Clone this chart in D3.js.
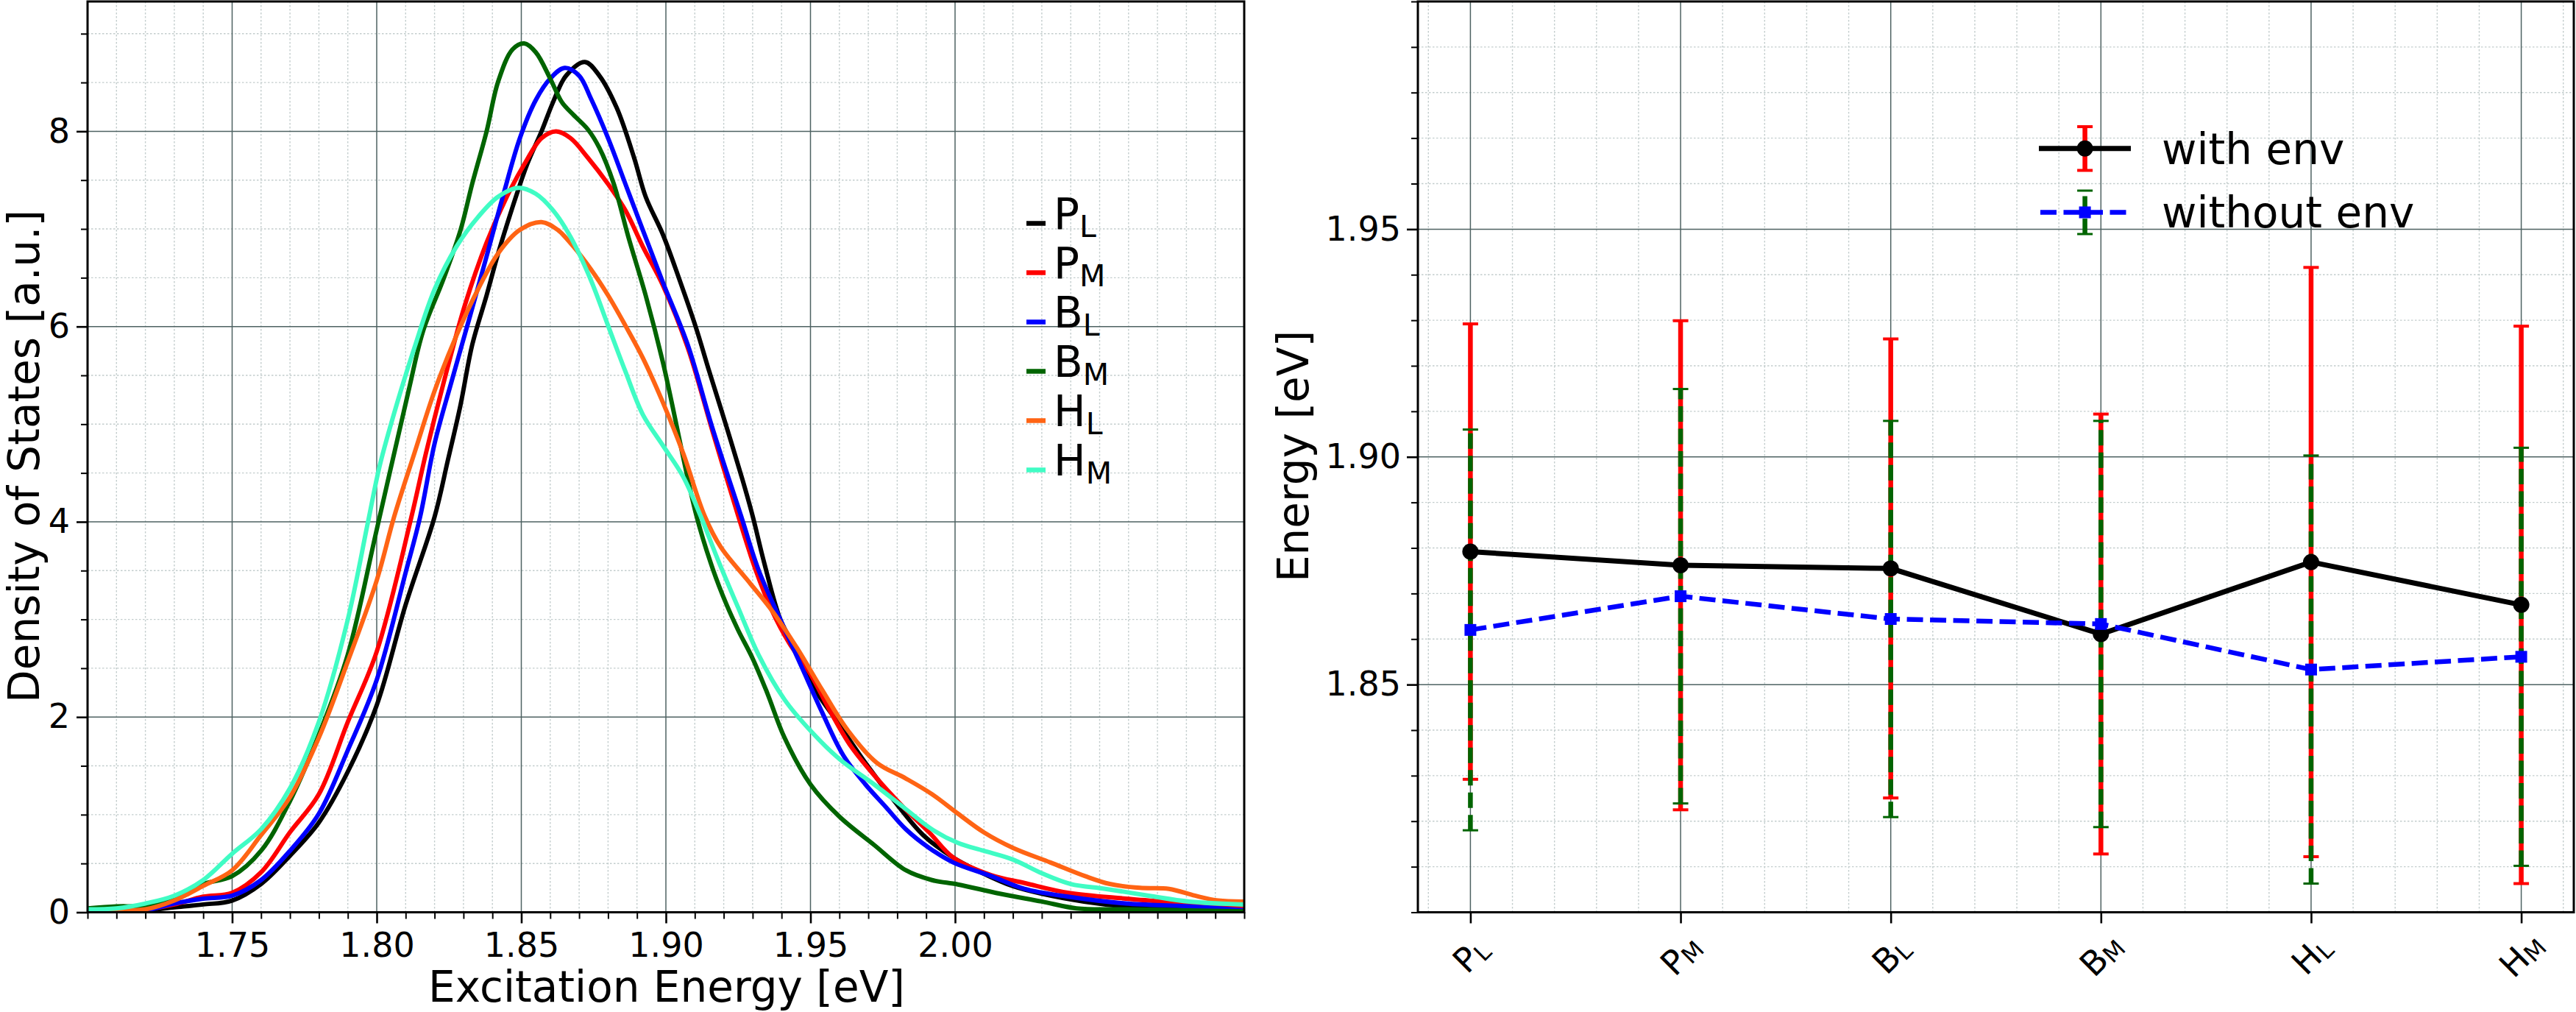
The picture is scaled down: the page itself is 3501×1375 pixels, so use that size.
<!DOCTYPE html>
<html><head><meta charset="utf-8">
<script src="https://cdn.jsdelivr.net/npm/d3@7"></script>
<style>body{margin:0;background:#fff} svg{display:block} text{font-family:"DejaVu Sans",sans-serif}</style>
</head><body><svg id="c" width="3501" height="1375"></svg>
<script>
// ---------------- DATA ----------------
// Left panel: density of states curves, [excitation energy (eV), density (a.u.)]
const dosPL = [[1.70,0.01],[1.71,0.01],[1.72,0.02],[1.73,0.05],[1.74,0.08],[1.75,0.12],[1.76,0.29],[1.77,0.58],[1.78,0.92],[1.79,1.44],[1.80,2.12],[1.81,3.15],[1.82,4.05],[1.8246,4.63],[1.829,5.2],[1.833,5.81],[1.838,6.32],[1.842,6.75],[1.8466,7.19],[1.852,7.66],[1.857,8.0],[1.861,8.30],[1.8655,8.57],[1.872,8.71],[1.877,8.57],[1.883,8.24],[1.889,7.73],[1.893,7.33],[1.899,6.94],[1.9047,6.48],[1.9105,5.98],[1.915,5.54],[1.921,4.97],[1.9265,4.43],[1.930,4.06],[1.934,3.58],[1.9397,2.99],[1.9455,2.67],[1.951,2.31],[1.960,1.92],[1.969,1.53],[1.979,1.14],[1.989,0.79],[1.9994,0.56],[2.0096,0.40],[2.0198,0.27],[2.030,0.19],[2.0446,0.11],[2.059,0.06],[2.074,0.04],[2.10,0.03]];
const dosPM = [[1.70,0.02],[1.71,0.02],[1.72,0.03],[1.73,0.08],[1.74,0.16],[1.75,0.20],[1.76,0.41],[1.77,0.82],[1.78,1.21],[1.79,1.95],[1.80,2.67],[1.812,4.05],[1.817,4.70],[1.823,5.41],[1.8305,6.22],[1.838,6.86],[1.845,7.33],[1.851,7.66],[1.857,7.93],[1.862,8.0],[1.867,7.93],[1.873,7.73],[1.880,7.46],[1.886,7.19],[1.892,6.82],[1.899,6.42],[1.9076,5.78],[1.916,4.94],[1.925,4.06],[1.931,3.51],[1.9367,3.09],[1.9426,2.76],[1.950,2.44],[1.957,2.05],[1.964,1.70],[1.973,1.37],[1.982,1.08],[1.991,0.82],[1.9994,0.56],[2.0125,0.38],[2.024,0.30],[2.039,0.20],[2.059,0.14],[2.081,0.09],[2.10,0.04]];
const dosBL = [[1.70,0.01],[1.71,0.01],[1.72,0.02],[1.73,0.09],[1.74,0.14],[1.75,0.17],[1.76,0.33],[1.77,0.63],[1.78,1.01],[1.79,1.66],[1.80,2.38],[1.81,3.48],[1.815,4.05],[1.820,4.80],[1.826,5.45],[1.832,6.08],[1.838,6.72],[1.8436,7.33],[1.8495,7.93],[1.855,8.32],[1.860,8.54],[1.865,8.65],[1.870,8.57],[1.874,8.34],[1.880,7.93],[1.886,7.46],[1.892,6.99],[1.899,6.45],[1.9076,5.81],[1.916,4.97],[1.926,4.06],[1.932,3.51],[1.9397,2.99],[1.947,2.51],[1.954,2.05],[1.9615,1.60],[1.969,1.31],[1.976,1.08],[1.983,0.85],[1.991,0.66],[1.9994,0.51],[2.0125,0.37],[2.024,0.24],[2.039,0.16],[2.059,0.09],[2.081,0.06],[2.10,0.02]];
const dosBM = [[1.70,0.04],[1.71,0.06],[1.72,0.07],[1.73,0.16],[1.74,0.29],[1.75,0.37],[1.76,0.63],[1.77,1.14],[1.78,1.82],[1.79,2.64],[1.80,3.92],[1.811,5.34],[1.816,5.95],[1.823,6.48],[1.829,6.99],[1.833,7.46],[1.838,8.0],[1.842,8.51],[1.847,8.84],[1.851,8.90],[1.855,8.81],[1.860,8.54],[1.864,8.30],[1.868,8.17],[1.873,8.02],[1.877,7.83],[1.882,7.46],[1.887,6.92],[1.893,6.32],[1.899,5.63],[1.9105,4.07],[1.9163,3.51],[1.921,3.15],[1.925,2.89],[1.930,2.60],[1.935,2.25],[1.941,1.79],[1.950,1.31],[1.960,0.98],[1.972,0.69],[1.983,0.43],[1.992,0.33],[2.001,0.285],[2.0155,0.19],[2.030,0.11],[2.042,0.04],[2.059,0.03],[2.10,0.01]];
const dosHL = [[1.70,0.02],[1.71,0.02],[1.72,0.03],[1.73,0.12],[1.74,0.27],[1.75,0.43],[1.76,0.79],[1.77,1.18],[1.78,1.79],[1.79,2.57],[1.80,3.40],[1.806,4.05],[1.813,4.70],[1.820,5.34],[1.8276,5.91],[1.835,6.38],[1.842,6.75],[1.8495,6.99],[1.857,7.07],[1.8626,6.99],[1.868,6.82],[1.874,6.59],[1.880,6.32],[1.886,6.01],[1.892,5.68],[1.899,5.22],[1.906,4.70],[1.9134,4.06],[1.919,3.74],[1.928,3.41],[1.9367,3.09],[1.9455,2.70],[1.954,2.28],[1.963,1.86],[1.973,1.53],[1.983,1.37],[1.992,1.21],[2.001,1.01],[2.0099,0.82],[2.020,0.66],[2.033,0.51],[2.045,0.37],[2.0535,0.29],[2.064,0.25],[2.074,0.24],[2.083,0.17],[2.091,0.12],[2.10,0.11]];
const dosHM = [[1.70,0.03],[1.71,0.04],[1.72,0.09],[1.73,0.17],[1.74,0.33],[1.75,0.60],[1.76,0.85],[1.77,1.27],[1.78,1.95],[1.79,3.0],[1.797,4.0],[1.801,4.57],[1.807,5.21],[1.813,5.78],[1.820,6.38],[1.8276,6.82],[1.835,7.12],[1.842,7.33],[1.849,7.42],[1.855,7.36],[1.861,7.19],[1.867,6.92],[1.874,6.48],[1.880,6.01],[1.886,5.54],[1.892,5.10],[1.899,4.78],[1.906,4.46],[1.912,4.06],[1.918,3.61],[1.925,3.12],[1.932,2.64],[1.941,2.18],[1.950,1.86],[1.960,1.57],[1.972,1.31],[1.982,1.08],[1.992,0.85],[2.001,0.71],[2.0099,0.63],[2.020,0.54],[2.030,0.40],[2.040,0.29],[2.052,0.24],[2.067,0.17],[2.081,0.11],[2.10,0.08]];

const dosLabelMain = ["P","P","B","B","H","H"];
const dosLabelSub  = ["L","M","L","M","L","M"];
const dosColors = ["#000000","#ff0000","#0000ff","#006400","#ff6414","#40fcc4"];

const energyMajorTicks = [1.75,1.80,1.85,1.90,1.95,2.00];
const dosMajorTicks = [0,2,4,6,8];

// Right panel: mean excitation energies with standard deviation
const siteMain = ["P","P","B","B","H","H"];
const siteSub  = ["L","M","L","M","L","M"];
const withEnv      = [1.8792,1.8762,1.8755,1.8611,1.8769,1.8675];
const withEnvErr   = [0.0500,0.0537,0.0504,0.0483,0.0647,0.0612];
const withoutEnv   = [1.8620,1.8694,1.8644,1.8633,1.8533,1.8561];
const withoutEnvErr= [0.0440,0.0455,0.0435,0.0446,0.0470,0.0459];
const energyRightTicks = [1.85,1.90,1.95];

// ---------------- DRAW ----------------
const svg = d3.select("#c");
svg.append("rect").attr("width",3501).attr("height",1375).attr("fill","#fff");

const FONT = "DejaVu Sans";
const MAJ_GRID = "#4e6262", MIN_GRID = "#c3cdcd";

function near(a,b){return Math.abs(a-b)<1e-6;}
function minorOf(all, major){return all.filter(v=>!major.some(m=>near(m,v)));}

function grid(g, x, y, xMaj, xMin, yMaj, yMin){
  const [xa,xb]=x.range(), [ya,yb]=y.range();
  g.append("g").selectAll("line").data(xMin).join("line")
    .attr("x1",d=>x(d)).attr("x2",d=>x(d)).attr("y1",ya).attr("y2",yb)
    .attr("stroke",MIN_GRID).attr("stroke-width",1.4).attr("stroke-dasharray","2.5,2.5");
  g.append("g").selectAll("line").data(yMin).join("line")
    .attr("y1",d=>y(d)).attr("y2",d=>y(d)).attr("x1",xa).attr("x2",xb)
    .attr("stroke",MIN_GRID).attr("stroke-width",1.4).attr("stroke-dasharray","2.5,2.5");
  g.append("g").selectAll("line").data(xMaj).join("line")
    .attr("x1",d=>x(d)).attr("x2",d=>x(d)).attr("y1",ya).attr("y2",yb)
    .attr("stroke",MAJ_GRID).attr("stroke-width",1.5);
  g.append("g").selectAll("line").data(yMaj).join("line")
    .attr("y1",d=>y(d)).attr("y2",d=>y(d)).attr("x1",xa).attr("x2",xb)
    .attr("stroke",MAJ_GRID).attr("stroke-width",1.5);
}

function styleAxis(g, size){
  g.select(".domain").remove();
  g.attr("font-family",FONT).attr("font-size",size);
  g.selectAll(".tick line").attr("stroke","#000").attr("stroke-width",2.6);
  g.selectAll(".tick text").attr("fill","#000");
}

function frame(x,y){
  const [xa,xb]=x.range(), [ya,yb]=y.range();
  svg.append("rect").attr("x",xa).attr("y",yb).attr("width",xb-xa).attr("height",ya-yb)
    .attr("fill","none").attr("stroke","#000").attr("stroke-width",3);
}

function subLabel(sel, main, sub, subSize, dy){
  sel.text(null);
  sel.append("tspan").text(main);
  sel.append("tspan").attr("font-size",subSize).attr("dy",dy).text(sub);
}

// ===== Left panel =====
const xL = d3.scaleLinear().domain([1.70,2.10]).range([119,1691]);
const yL = d3.scaleLinear().domain([0,9.33]).range([1239.5,2]);
const xLMinor = minorOf(d3.range(170,211).map(i=>i/100), energyMajorTicks);
const yLMinor = minorOf(d3.range(1,19).map(i=>i*0.5), dosMajorTicks);

grid(svg.append("g"), xL, yL, energyMajorTicks, xLMinor, dosMajorTicks, yLMinor);

svg.append("defs").append("clipPath").attr("id","clipL").append("rect")
  .attr("x",119).attr("y",2).attr("width",1691-119).attr("height",1239.5-2);

const dosAll = [dosPL,dosPM,dosBL,dosBM,dosHL,dosHM];
const lineL = d3.line().x(d=>xL(d[0])).y(d=>yL(d[1])).curve(d3.curveCatmullRom.alpha(0.5));
svg.append("g").attr("clip-path","url(#clipL)").selectAll("path").data(dosAll).join("path")
  .attr("d",lineL).attr("fill","none").attr("stroke",(d,i)=>dosColors[i])
  .attr("stroke-width",6).attr("stroke-linejoin","round").attr("stroke-linecap","round");

// axes left
const axLx = svg.append("g").attr("transform","translate(0,1239.5)")
  .call(d3.axisBottom(xL).tickValues(energyMajorTicks).tickFormat(d3.format(".2f")).tickSize(15).tickPadding(13));
styleAxis(axLx,46);
const axLxm = svg.append("g").attr("transform","translate(0,1239.5)")
  .call(d3.axisBottom(xL).tickValues(xLMinor).tickFormat("").tickSize(9));
styleAxis(axLxm,46); axLxm.selectAll(".tick line").attr("stroke-width",2);
const axLy = svg.append("g").attr("transform","translate(119,0)")
  .call(d3.axisLeft(yL).tickValues(dosMajorTicks).tickFormat(d3.format("d")).tickSize(15).tickPadding(9));
styleAxis(axLy,46);
const axLym = svg.append("g").attr("transform","translate(119,0)")
  .call(d3.axisLeft(yL).tickValues(yLMinor).tickFormat("").tickSize(9));
styleAxis(axLym,46); axLym.selectAll(".tick line").attr("stroke-width",2);
frame(xL,yL);

svg.append("text").attr("x",906).attr("y",1361).attr("text-anchor","middle")
  .attr("font-size",58).text("Excitation Energy [eV]");
svg.append("text").attr("transform","translate(53,620) rotate(-90)").attr("text-anchor","middle")
  .attr("font-size",58).text("Density of States [a.u.]");

// legend left
const legL = svg.append("g");
const legRows = d3.range(6).map(i=>303.5+i*67);
legL.selectAll("line").data(legRows).join("line")
  .attr("x1",1395).attr("x2",1421).attr("y1",d=>d).attr("y2",d=>d)
  .attr("stroke",(d,i)=>dosColors[i]).attr("stroke-width",6.5);
legL.selectAll("text").data(legRows).join("text")
  .attr("x",1432).attr("y",d=>d+7).attr("font-size",58)
  .each(function(d,i){ subLabel(d3.select(this), dosLabelMain[i], dosLabelSub[i], 41, 11); });

// ===== Right panel =====
const xR = d3.scaleLinear().domain([-0.25,5.25]).range([1927,3498]);
const yR = d3.scaleLinear().domain([1.80,2.00]).range([1239.5,2]);
const catIdx = d3.range(siteMain.length);
const xRMinor = minorOf(d3.range(-1,27).map(i=>i*0.2), catIdx);
const yRMinor = minorOf(d3.range(180,201).map(i=>i/100), energyRightTicks);

grid(svg.append("g"), xR, yR, catIdx, xRMinor, energyRightTicks, yRMinor);

const CAP = 10.5;
function errorBars(g, vals, errs, color, dashed, capW){
  g.selectAll(".bar").data(vals).join("line").attr("class","bar")
    .attr("x1",(d,i)=>xR(i)).attr("x2",(d,i)=>xR(i))
    .attr("y1",(d,i)=>yR(d-errs[i])).attr("y2",(d,i)=>yR(d+errs[i]))
    .attr("stroke",color).attr("stroke-width",6.5)
    .attr("stroke-dasharray",dashed?"21,9.5":null);
  const caps = [];
  vals.forEach((d,i)=>{caps.push([i,d-errs[i]]);caps.push([i,d+errs[i]]);});
  g.selectAll(".cap").data(caps).join("line").attr("class","cap")
    .attr("x1",d=>xR(d[0])-CAP).attr("x2",d=>xR(d[0])+CAP)
    .attr("y1",d=>yR(d[1])).attr("y2",d=>yR(d[1]))
    .attr("stroke",color).attr("stroke-width",capW);
}
errorBars(svg.append("g"), withEnv, withEnvErr, "#ff0000", false, 4);
errorBars(svg.append("g"), withoutEnv, withoutEnvErr, "#006400", true, 3);

const lineR = d3.line().x((d,i)=>xR(i)).y(d=>yR(d));
svg.append("path").attr("d",lineR(withEnv)).attr("fill","none").attr("stroke","#000").attr("stroke-width",7);
svg.append("g").selectAll("circle").data(withEnv).join("circle")
  .attr("cx",(d,i)=>xR(i)).attr("cy",d=>yR(d)).attr("r",11).attr("fill","#000");
svg.append("path").attr("d",lineR(withoutEnv)).attr("fill","none").attr("stroke","#0000ff")
  .attr("stroke-width",6.5).attr("stroke-dasharray","22,9.5");
svg.append("g").selectAll("rect").data(withoutEnv).join("rect")
  .attr("x",(d,i)=>xR(i)-8).attr("y",d=>yR(d)-8).attr("width",16).attr("height",16).attr("fill","#0000ff");

// axes right
const axRx = svg.append("g").attr("transform","translate(0,1239.5)")
  .call(d3.axisBottom(xR).tickValues(catIdx).tickSize(15).tickPadding(0));
styleAxis(axRx,46);
axRx.selectAll(".tick text")
  .attr("y",null).attr("dy",null)
  .attr("text-anchor","middle").attr("dominant-baseline","middle")
  .attr("transform","translate(2,60) rotate(-45)")
  .each(function(d){ subLabel(d3.select(this), siteMain[d], siteSub[d], 32, 8); });
const axRy = svg.append("g").attr("transform","translate(1927,0)")
  .call(d3.axisLeft(yR).tickValues(energyRightTicks).tickFormat(d3.format(".2f")).tickSize(15).tickPadding(8));
styleAxis(axRy,46);
const axRym = svg.append("g").attr("transform","translate(1927,0)")
  .call(d3.axisLeft(yR).tickValues(yRMinor).tickFormat("").tickSize(9));
styleAxis(axRym,46); axRym.selectAll(".tick line").attr("stroke-width",2);
frame(xR,yR);

svg.append("text").attr("transform","translate(1778,620) rotate(-90)").attr("text-anchor","middle")
  .attr("font-size",58).text("Energy [eV]");

// legend right
const legR = svg.append("g");
const lx0 = 2771, lx1 = 2896, lxc = 2833.6;
// row 1: with env
const r1 = 201.8;
legR.append("line").attr("x1",lxc).attr("x2",lxc).attr("y1",r1+29.7).attr("y2",r1-29.7).attr("stroke","#ff0000").attr("stroke-width",6.5);
[r1-29.7,r1+29.7].forEach(y=>legR.append("line").attr("x1",lxc-CAP).attr("x2",lxc+CAP).attr("y1",y).attr("y2",y).attr("stroke","#ff0000").attr("stroke-width",4));
legR.append("line").attr("x1",lx0).attr("x2",lx1).attr("y1",r1).attr("y2",r1).attr("stroke","#000").attr("stroke-width",7);
legR.append("circle").attr("cx",lxc).attr("cy",r1).attr("r",11).attr("fill","#000");
legR.append("text").attr("x",2938).attr("y",r1+21).attr("font-size",58).text("with env");
// row 2: without env
const r2 = 288.5;
legR.append("line").attr("x1",lxc).attr("x2",lxc).attr("y1",r2+29.5).attr("y2",r2-29.5).attr("stroke","#006400").attr("stroke-width",6.5).attr("stroke-dasharray","21,9.5");
[r2-29.5,r2+29.5].forEach(y=>legR.append("line").attr("x1",lxc-CAP).attr("x2",lxc+CAP).attr("y1",y).attr("y2",y).attr("stroke","#006400").attr("stroke-width",3));
legR.append("line").attr("x1",lx0).attr("x2",lx1).attr("y1",r2).attr("y2",r2).attr("stroke","#0000ff").attr("stroke-width",6.5).attr("stroke-dasharray","22,9.5").attr("stroke-dashoffset",-2);
legR.append("rect").attr("x",lxc-8).attr("y",r2-8).attr("width",16).attr("height",16).attr("fill","#0000ff");
legR.append("text").attr("x",2938).attr("y",r2+20).attr("font-size",58).text("without env");
</script>
</body></html>
